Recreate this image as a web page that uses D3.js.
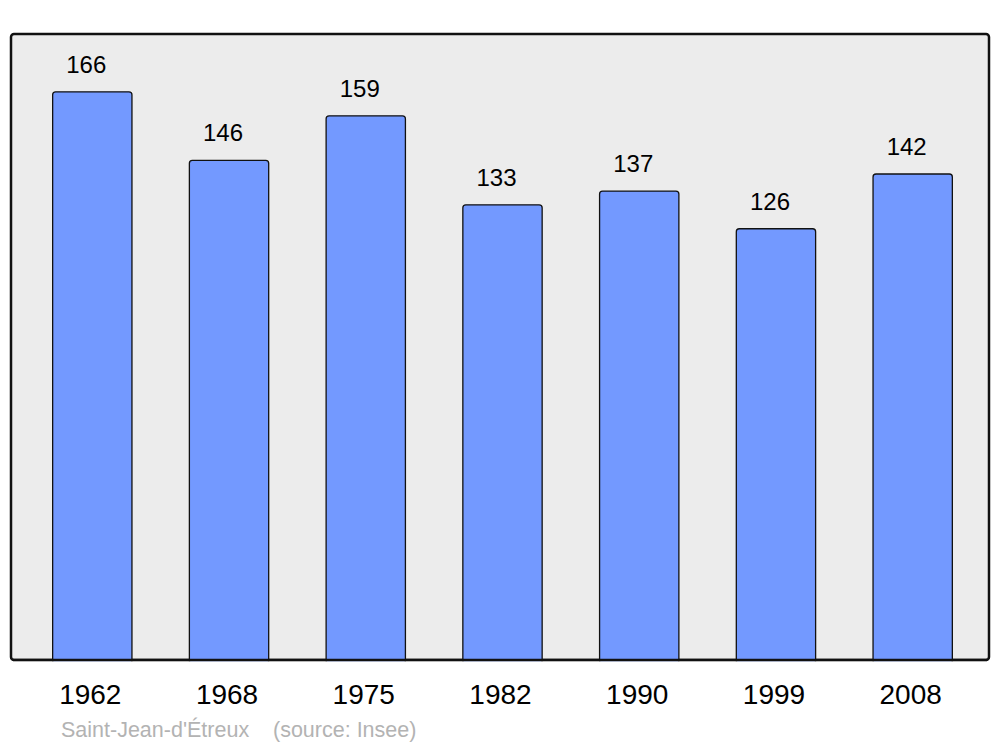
<!DOCTYPE html>
<html>
<head>
<meta charset="utf-8">
<script src="https://cdn.jsdelivr.net/npm/d3@7"></script>
<style>
  body { margin: 0; background: #fff; }
  text { font-family: "Liberation Sans", Arial, sans-serif; }
</style>
</head>
<body>
<div id="chart"></div>
<script>
const years = ["1962", "1968", "1975", "1982", "1990", "1999", "2008"];
const population = [166, 146, 159, 133, 137, 126, 142];
const commune = "Saint-Jean-d'Étreux";
const source = "(source: Insee)";

const width = 1000, height = 747;
const panel = { left: 11, right: 989, top: 34, bottom: 660 };

const svg = d3.select("#chart")
    .append("svg")
    .attr("width", width)
    .attr("height", height);

// background panel
svg.append("rect")
    .attr("x", panel.left)
    .attr("y", panel.top)
    .attr("width", panel.right - panel.left)
    .attr("height", panel.bottom - panel.top)
    .attr("rx", 3)
    .attr("fill", "#ececec")
    .attr("stroke", "#111")
    .attr("stroke-width", 2.5);

const xScale = d3.scaleBand()
    .domain(years)
    .range([13, 992])
    .paddingInner(0.42)
    .paddingOuter(0.29);

const yScale = d3.scaleLinear()
    .domain([0, 182.9])
    .range([panel.bottom, panel.top]);

const data = years.map((y, i) => ({ year: y, value: population[i] }));

svg.selectAll("rect.bar")
    .data(data)
    .enter()
    .append("rect")
    .attr("class", "bar")
    .attr("x", d => xScale(d.year))
    .attr("y", d => yScale(d.value))
    .attr("width", xScale.bandwidth())
    .attr("height", d => panel.bottom - yScale(d.value) + 4)
    .attr("rx", 3)
    .attr("fill", "#7399ff")
    .attr("stroke", "#111")
    .attr("stroke-width", 1.3);

// redraw bottom border over bar bottoms
svg.append("rect")
    .attr("x", 0).attr("y", panel.bottom + 1.25)
    .attr("width", width).attr("height", 10)
    .attr("fill", "#fff");
svg.append("line")
    .attr("x1", panel.left + 2)
    .attr("x2", panel.right - 2)
    .attr("y1", panel.bottom)
    .attr("y2", panel.bottom)
    .attr("stroke", "#111")
    .attr("stroke-width", 2.5);

svg.selectAll("text.value")
    .data(data)
    .enter()
    .append("text")
    .attr("class", "value")
    .attr("x", d => xScale(d.year) + xScale.bandwidth() / 2 - 6)
    .attr("y", d => yScale(d.value) - 19)
    .attr("text-anchor", "middle")
    .style("font-size", "24px")
    .style("fill", "#000")
    .text(d => d.value);

svg.selectAll("text.year")
    .data(data)
    .enter()
    .append("text")
    .attr("class", "year")
    .attr("x", d => xScale(d.year) + xScale.bandwidth() / 2 - 2)
    .attr("y", 704)
    .attr("text-anchor", "middle")
    .style("font-size", "28px")
    .style("fill", "#000")
    .text(d => d.year);

svg.append("text")
    .attr("x", 61)
    .attr("y", 737)
    .style("font-size", "21.5px")
    .style("fill", "#b3b3b3")
    .text(commune);

svg.append("text")
    .attr("x", 273)
    .attr("y", 737)
    .style("font-size", "21.5px")
    .style("fill", "#b3b3b3")
    .text(source);
</script>
</body>
</html>
